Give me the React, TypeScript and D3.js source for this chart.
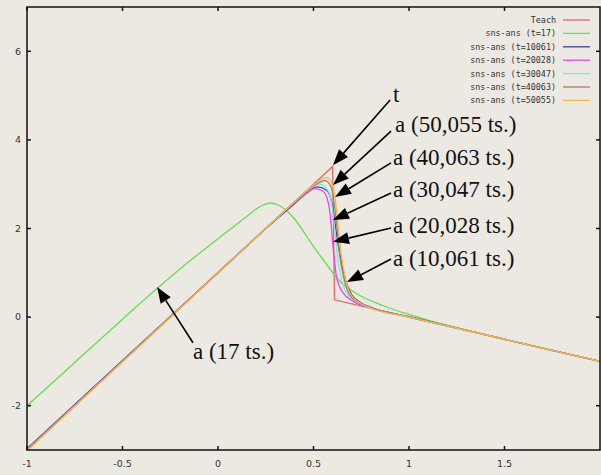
import React, { useRef, useEffect } from 'react';
import * as d3 from 'd3';

// axis ticks
const xTicks = [-1, -0.5, 0, 0.5, 1, 1.5];
const yTicks = [-2, 0, 2, 4, 6];

// teacher signal
const teachX = [-1, 0.6, 0.61, 2];
const teachY = [-3, 3.4, 0.39, -1];

// sns-ans (t=17)
const g17X = [-1, -0.8, -0.6, -0.4, -0.25, -0.15, -0.05, 0, 0.05, 0.1, 0.15, 0.2, 0.24, 0.28, 0.32, 0.36, 0.4, 0.44, 0.48, 0.52, 0.55, 0.58, 0.61, 0.65, 0.7, 0.75, 0.8, 0.9, 1.0, 1.1, 1.5, 2];
const g17Y = [-2.0, -1.22, -0.44, 0.34, 0.9, 1.26, 1.6, 1.77, 1.94, 2.1, 2.27, 2.44, 2.54, 2.57, 2.52, 2.4, 2.22, 1.98, 1.72, 1.47, 1.3, 1.12, 0.95, 0.76, 0.6, 0.47, 0.37, 0.2, 0.06, -0.07, -0.5, -1.0];

// sns-ans (t=10061)
const b10X = [-1, -0.5, 0, 0.25, 0.4, 0.45, 0.52, 0.57, 0.6, 0.615, 0.63, 0.65, 0.67, 0.7, 0.75, 0.8, 1.0, 1.5, 2];
const b10Y = [-2.97, -0.98, 1.0, 2.0, 2.56, 2.75, 2.94, 2.86, 2.5, 2.05, 1.62, 1.15, 0.8, 0.5, 0.32, 0.22, 0.01, -0.5, -1.0];

// sns-ans (t=20028)
const m20X = [-1, -0.5, 0, 0.25, 0.4, 0.45, 0.51, 0.55, 0.578, 0.59, 0.6, 0.61, 0.62, 0.656, 0.71, 0.8, 1.0, 1.5, 2];
const m20Y = [-2.98, -1.0, 1.01, 2.0, 2.58, 2.76, 2.9, 2.84, 2.57, 2.2, 1.68, 1.3, 0.92, 0.54, 0.35, 0.21, 0.0, -0.5, -1.0];

// sns-ans (t=30047)
const c30X = [-1, -0.5, 0, 0.25, 0.4, 0.47, 0.535, 0.58, 0.6, 0.615, 0.63, 0.65, 0.68, 0.75, 0.8, 1.0, 1.5, 2];
const c30Y = [-3.0, -1.0, 1.0, 2.01, 2.6, 2.86, 3.0, 2.82, 2.42, 1.82, 1.22, 0.8, 0.5, 0.3, 0.21, 0.0, -0.5, -1.0];

// sns-ans (t=40063)
const r40X = [-1, -0.5, 0, 0.25, 0.4, 0.5, 0.56, 0.59, 0.61, 0.625, 0.64, 0.66, 0.69, 0.75, 0.8, 1.0, 1.5, 2];
const r40Y = [-3.0, -1.0, 1.0, 2.0, 2.6, 2.96, 3.08, 2.96, 2.52, 1.92, 1.32, 0.86, 0.5, 0.3, 0.21, 0.0, -0.5, -1.0];

// sns-ans (t=50055)
const o50X = [-1, -0.5, 0, 0.25, 0.4, 0.5, 0.57, 0.595, 0.615, 0.63, 0.645, 0.665, 0.69, 0.75, 0.8, 1.0, 1.5, 2];
const o50Y = [-3.02, -1.01, 0.99, 2.0, 2.6, 2.98, 3.15, 3.02, 2.62, 2.02, 1.42, 0.9, 0.55, 0.3, 0.2, 0.0, -0.5, -1.0];

const seriesNames = ['Teach', 'sns-ans (t=17)', 'sns-ans (t=10061)', 'sns-ans (t=20028)', 'sns-ans (t=30047)', 'sns-ans (t=40063)', 'sns-ans (t=50055)'];
const seriesXs = [teachX, g17X, b10X, m20X, c30X, r40X, o50X];
const seriesYs = [teachY, g17Y, b10Y, m20Y, c30Y, r40Y, o50Y];
const seriesColors = ['#e06666', '#66dd55', '#3a3aa0', '#ee44ee', '#66eeee', '#b8785a', '#f0b848'];

// annotations: label text, label anchor, arrow tail, arrow tip (data coords)
const annLabels = ['t', 'a (50,055 ts.)', 'a (40,063 ts.)', 'a (30,047 ts.)', 'a (20,028 ts.)', 'a (10,061 ts.)', 'a (17 ts.)'];
const annText = [[0.916, 4.86], [0.927, 4.18], [0.916, 3.43], [0.916, 2.71], [0.916, 1.90], [0.916, 1.15], [-0.131, -0.94]];
const annTail = [[0.901, 4.90], [0.906, 4.20], [0.906, 3.48], [0.906, 2.80], [0.906, 2.01], [0.906, 1.31], [-0.131, -0.58]];
const annTip = [[0.602, 3.43], [0.602, 2.98], [0.613, 2.71], [0.602, 2.19], [0.602, 1.70], [0.675, 0.79], [-0.319, 0.68]];

const App = () => {
    const ref = useRef(null);

    useEffect(() => {
        const W = 601, H = 475;
        const margin = { top: 7, right: 1, bottom: 25, left: 27 };
        const root = d3.select(ref.current);
        root.selectAll('*').remove();

        const svg = root.append('svg')
            .attr('width', W)
            .attr('height', H)
            .style('display', 'block');

        svg.append('rect').attr('width', W).attr('height', H).attr('fill', '#ece9e2');

        const x = d3.scaleLinear().domain([-1, 2]).range([margin.left, W - margin.right]);
        const y = d3.scaleLinear().domain([-3, 7]).range([H - margin.bottom, margin.top]);

        svg.append('clipPath').attr('id', 'plot-clip')
            .append('rect')
            .attr('x', x(-1)).attr('y', y(7))
            .attr('width', x(2) - x(-1)).attr('height', y(-3) - y(7));

        // curves
        const plot = svg.append('g').attr('clip-path', 'url(#plot-clip)');
        seriesNames.forEach((name, i) => {
            const pts = seriesXs[i].map((v, j) => [v, seriesYs[i][j]]);
            const line = d3.line()
                .x(d => x(d[0]))
                .y(d => y(d[1]))
                .curve(i === 0 ? d3.curveLinear : d3.curveMonotoneX);
            plot.append('path')
                .datum(pts)
                .attr('fill', 'none')
                .attr('stroke', seriesColors[i])
                .attr('stroke-width', 1.3)
                .attr('d', line);
        });

        // frame
        svg.append('rect')
            .attr('x', x(-1)).attr('y', y(7))
            .attr('width', x(2) - x(-1)).attr('height', y(-3) - y(7))
            .attr('fill', 'none').attr('stroke', '#111').attr('stroke-width', 1.5);

        // ticks (mirrored, inward)
        const tk = 4;
        xTicks.forEach(t => {
            svg.append('line').attr('x1', x(t)).attr('x2', x(t)).attr('y1', y(-3)).attr('y2', y(-3) - tk).attr('stroke', '#111').attr('stroke-width', 1.5);
            svg.append('line').attr('x1', x(t)).attr('x2', x(t)).attr('y1', y(7)).attr('y2', y(7) + tk).attr('stroke', '#111').attr('stroke-width', 1.5);
            svg.append('text')
                .attr('x', x(t)).attr('y', y(-3) + 17)
                .attr('text-anchor', 'middle')
                .attr('font-family', 'DejaVu Sans, sans-serif').attr('font-size', 9.5)
                .attr('fill', '#333')
                .text(String(t));
        });
        yTicks.forEach(t => {
            svg.append('line').attr('x1', x(-1)).attr('x2', x(-1) + tk).attr('y1', y(t)).attr('y2', y(t)).attr('stroke', '#111').attr('stroke-width', 1.5);
            svg.append('line').attr('x1', x(2)).attr('x2', x(2) - tk).attr('y1', y(t)).attr('y2', y(t)).attr('stroke', '#111').attr('stroke-width', 1.5);
            svg.append('text')
                .attr('x', x(-1) - 6).attr('y', y(t))
                .attr('dy', '0.35em')
                .attr('text-anchor', 'end')
                .attr('font-family', 'DejaVu Sans, sans-serif').attr('font-size', 9.5)
                .attr('fill', '#333')
                .text(String(t));
        });

        // legend
        const legend = svg.append('g');
        seriesNames.forEach((name, i) => {
            const ly = 20 + i * 13.4;
            legend.append('text')
                .attr('x', 556).attr('y', ly)
                .attr('dy', '0.35em')
                .attr('text-anchor', 'end')
                .attr('font-family', 'DejaVu Sans Mono, monospace').attr('font-size', 8.4)
                .attr('fill', '#333')
                .text(name);
            legend.append('line')
                .attr('x1', 563).attr('x2', 590).attr('y1', ly).attr('y2', ly)
                .attr('stroke', seriesColors[i]).attr('stroke-width', 1.3);
        });

        // annotations
        const head = 16, half = 6;
        annLabels.forEach((lab, i) => {
            const tx = x(annTail[i][0]), ty = y(annTail[i][1]);
            const px = x(annTip[i][0]), py = y(annTip[i][1]);
            const dx = px - tx, dy = py - ty;
            const len = Math.sqrt(dx * dx + dy * dy);
            const ux = dx / len, uy = dy / len;
            const bx = px - ux * head, by = py - uy * head;
            svg.append('line')
                .attr('x1', tx).attr('y1', ty).attr('x2', bx).attr('y2', by)
                .attr('stroke', '#000').attr('stroke-width', 1.6);
            svg.append('polygon')
                .attr('points', [[px, py], [bx - uy * half, by + ux * half], [bx + uy * half, by - ux * half]].map(p => p.join(',')).join(' '))
                .attr('fill', '#000');
            svg.append('text')
                .attr('x', x(annText[i][0])).attr('y', y(annText[i][1]))
                .attr('font-family', 'Liberation Serif, Times New Roman, serif').attr('font-size', 23)
                .attr('fill', '#111')
                .text(lab);
        });
    }, []);

    return <div ref={ref} style={{ position: 'absolute', left: 0, top: 0 }}></div>;
};

export default App;
